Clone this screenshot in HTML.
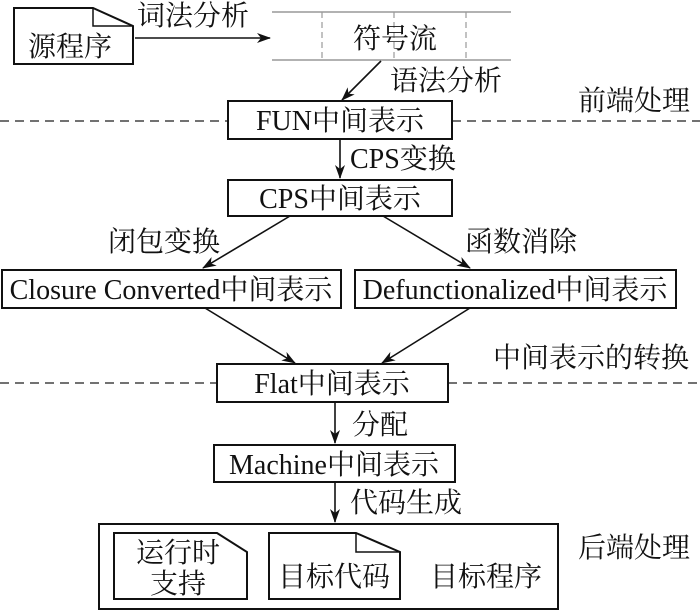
<!DOCTYPE html>
<html><head><meta charset="utf-8"><style>
body{margin:0;background:#fff}
svg{display:block}
text{font-family:"Liberation Serif","Noto Serif CJK SC",serif;font-size:28px;fill:#111}
</style></head><body>
<svg width="700" height="611" viewBox="0 0 700 611" xmlns="http://www.w3.org/2000/svg">
<defs><marker id="a" markerWidth="14" markerHeight="10" refX="13" refY="5" orient="auto" markerUnits="userSpaceOnUse"><path d="M0,0 L14,5 L0,10 L4,5 Z" fill="#111"/></marker></defs>
<g stroke="#111" stroke-width="2" fill="none">
<path d="M14,8 H93 L133,26 V64 H14 Z"/><path d="M93,8 V26 H133" stroke-width="1.5"/>
</g>
<text x="28" y="56">源程序</text>
<line x1="135" y1="38" x2="270" y2="38" stroke="#111" stroke-width="1.6" marker-end="url(#a)"/>
<text x="137" y="25">词法分析</text>
<g stroke="#999" stroke-width="1.5"><line x1="272" y1="12" x2="511" y2="12"/><line x1="272" y1="60" x2="511" y2="60"/></g>
<g stroke="#999" stroke-width="1.2" stroke-dasharray="6,4"><line x1="322" y1="12" x2="322" y2="60"/><line x1="394" y1="12" x2="394" y2="60"/><line x1="466" y1="12" x2="466" y2="60"/></g>
<text x="395" y="48" text-anchor="middle">符号流</text>
<line x1="381" y1="61" x2="342" y2="100" stroke="#111" stroke-width="1.6" marker-end="url(#a)"/>
<text x="390" y="90">语法分析</text>
<g stroke="#444" stroke-width="1.5" stroke-dasharray="9,6"><line x1="0" y1="121" x2="228" y2="121"/><line x1="452" y1="121" x2="700" y2="121"/><line x1="0" y1="383" x2="217" y2="383"/><line x1="448" y1="383" x2="700" y2="383"/></g>
<text x="578" y="110">前端处理</text>
<g stroke="#111" stroke-width="2" fill="#fff">
<rect x="228" y="101" width="224" height="38"/>
<rect x="228" y="180" width="224" height="36"/>
<rect x="2" y="270" width="339" height="38"/>
<rect x="355" y="270" width="321" height="38"/>
<rect x="217" y="364" width="231" height="38"/>
<rect x="214" y="445" width="241" height="37"/>
<rect x="99" y="524" width="459" height="85"/>
</g>
<text x="340" y="130" text-anchor="middle">FUN中间表示</text>
<line x1="340" y1="139" x2="340" y2="178" stroke="#111" stroke-width="1.6" marker-end="url(#a)"/>
<text x="350" y="168">CPS变换</text>
<text x="340" y="208" text-anchor="middle">CPS中间表示</text>
<line x1="290" y1="216" x2="203" y2="268" stroke="#111" stroke-width="1.6" marker-end="url(#a)"/>
<line x1="383" y1="216" x2="470" y2="268" stroke="#111" stroke-width="1.6" marker-end="url(#a)"/>
<text x="108" y="251">闭包变换</text>
<text x="465" y="251">函数消除</text>
<text x="171" y="299" text-anchor="middle">Closure Converted中间表示</text>
<text x="515" y="299" text-anchor="middle">Defunctionalized中间表示</text>
<line x1="205" y1="308" x2="295" y2="363" stroke="#111" stroke-width="1.6" marker-end="url(#a)"/>
<line x1="470" y1="308" x2="382" y2="363" stroke="#111" stroke-width="1.6" marker-end="url(#a)"/>
<text x="493" y="367">中间表示的转换</text>
<text x="332" y="393" text-anchor="middle">Flat中间表示</text>
<line x1="335" y1="402" x2="335" y2="443" stroke="#111" stroke-width="1.6" marker-end="url(#a)"/>
<text x="352" y="434">分配</text>
<text x="334" y="474" text-anchor="middle">Machine中间表示</text>
<line x1="335" y1="482" x2="335" y2="522" stroke="#111" stroke-width="1.6" marker-end="url(#a)"/>
<text x="350" y="512">代码生成</text>
<text x="578" y="557">后端处理</text>
<g stroke="#111" stroke-width="2" fill="none">
<path d="M114,533 H217 L247,552 V599 H114 Z"/>
<path d="M269,533 H356 L400,552 V599 H269 Z"/><path d="M356,533 V552 H400" stroke-width="1.5"/>
</g>
<text x="178" y="562" text-anchor="middle">运行时</text>
<text x="178" y="593" text-anchor="middle">支持</text>
<text x="334" y="586" text-anchor="middle">目标代码</text>
<text x="430" y="586">目标程序</text>
</svg>
</body></html>
